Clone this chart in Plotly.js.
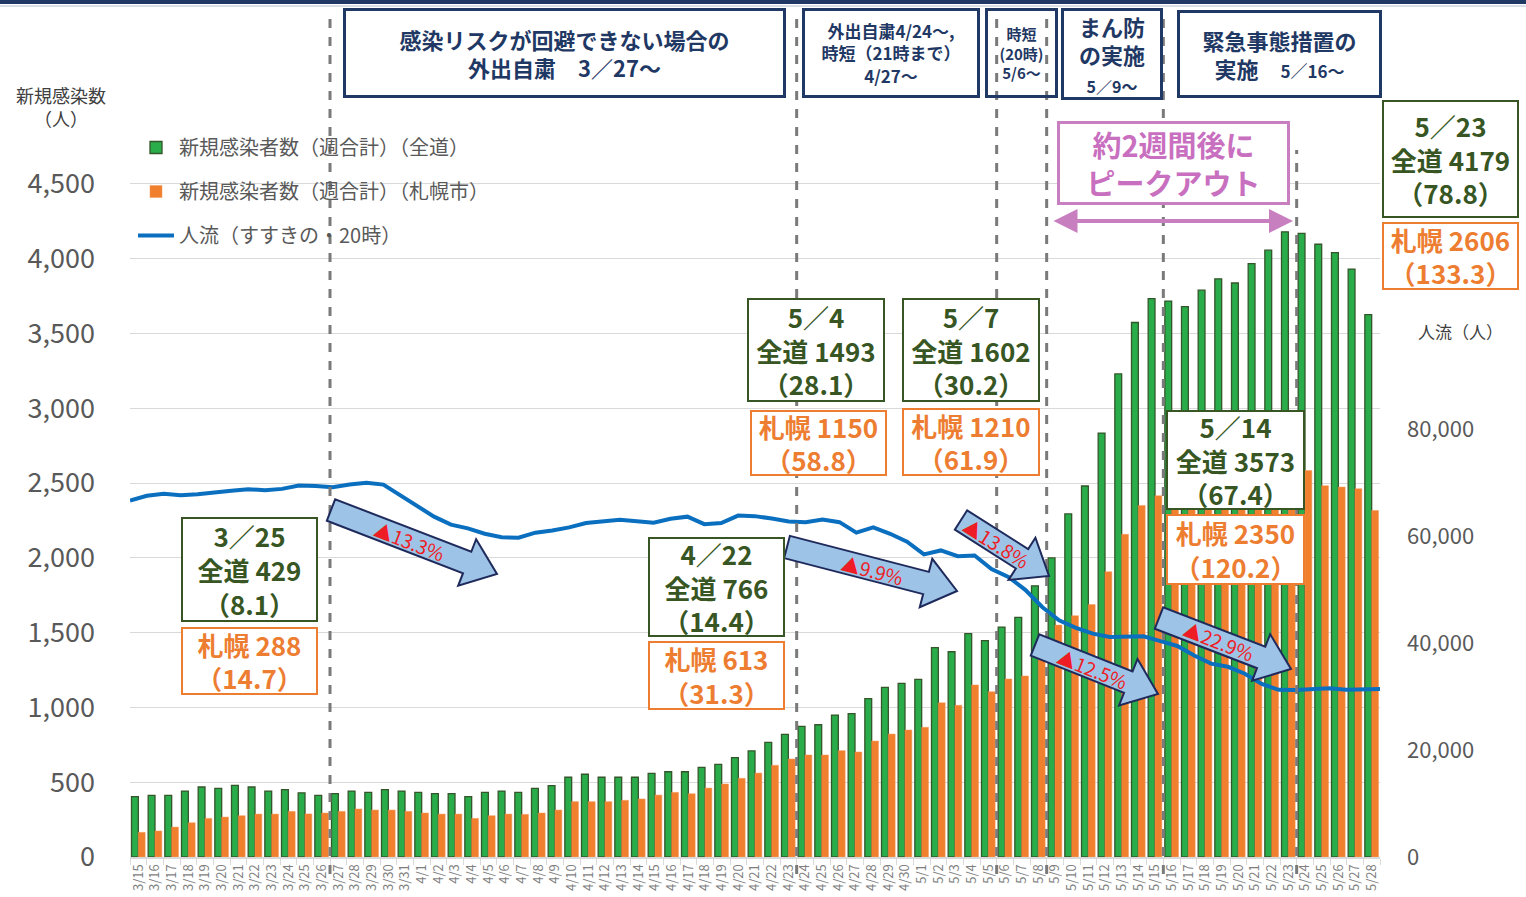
<!DOCTYPE html>
<html><head><meta charset="utf-8">
<script src="https://cdn.plot.ly/plotly-3.0.1.min.js"></script>
<style>html,body{margin:0;padding:0;background:#fff}#chart{width:1526px;height:897px}</style>
</head><body><div id="chart"></div>
<script>
const dates = ["3/15","3/16","3/17","3/18","3/19","3/20","3/21","3/22","3/23","3/24","3/25","3/26","3/27","3/28","3/29","3/30","3/31",
"4/1","4/2","4/3","4/4","4/5","4/6","4/7","4/8","4/9","4/10","4/11","4/12","4/13","4/14","4/15","4/16","4/17","4/18","4/19","4/20","4/21","4/22","4/23","4/24","4/25","4/26","4/27","4/28","4/29","4/30",
"5/1","5/2","5/3","5/4","5/5","5/6","5/7","5/8","5/9","5/10","5/11","5/12","5/13","5/14","5/15","5/16","5/17","5/18","5/19","5/20","5/21","5/22","5/23","5/24","5/25","5/26","5/27","5/28"];

const hokkaido = [403,412,412,441,468,459,479,468,441,450,429,412,423,441,432,450,441,
432,423,423,403,432,441,432,459,477,533,553,533,533,533,559,570,570,599,619,664,709,766,820,873,884,949,958,1058,1134,1161,
1188,1399,1372,1493,1446,1537,1602,1813,1999,2293,2480,2834,3229,3573,3733,3716,3679,3789,3865,3837,3966,4056,4179,4169,4096,4040,3930,3625];

const sapporo = [165,174,200,229,258,267,276,287,287,305,288,294,305,321,314,314,305,
294,287,287,258,276,287,285,294,314,370,370,370,379,388,414,432,423,461,488,526,561,613,655,682,682,711,702,775,822,849,
867,1031,1014,1150,1105,1190,1210,1339,1550,1613,1687,1907,2157,2350,2415,2440,2420,2480,2520,2500,2550,2590,2606,2583,2482,2473,2462,2316];

const susukino = [66720,67600,68000,67700,67900,68280,68550,68840,68650,68900,
69540,69450,69210,69700,70050,69700,67700,65600,63700,62200,
61500,60500,59850,59750,60700,61120,61700,62500,62800,63110,
62850,62550,63300,63700,62300,62500,63900,63800,63350,62800,
62670,63170,62670,60700,61700,60500,59000,56630,57380,56300,
56440,53900,52400,50000,46800,44300,42900,41800,41180,41300,
41300,40400,39500,37700,36200,35600,34300,32400,31300,31270,
31500,31600,31300,31300,31440];

const seriesNames = ["新規感染者数（週合計）（全道）","新規感染者数（週合計）（札幌市）","人流（すすきの・20時）"];
const leftTicks = [0,500,1000,1500,2000,2500,3000,3500,4000,4500,5000];
const leftTickText = ["0","500","1,000","1,500","2,000","2,500","3,000","3,500","4,000","4,500",""];
const rightTicks = [0,20000,40000,60000,80000];
const eventDates = ["3/27","4/24","5/6","5/9","5/16","5/24"];
const dropLabels = ["▲13.3%","▲9.9%","▲13.8%","▲12.5%","▲22.9%"];

// layout helpers (pixel -> paper)
const W=1526,H=897,PL=130,PR=1380,PT=109,PB=857;
const px = X => (X-PL)/(PR-PL);
const py = Y => (PB-Y)/(PB-PT);
const FONT = '"Noto Sans CJK JP", "Noto Sans", sans-serif';
const NAVY='#1f3864', GTXT='#375623', ORG='#ed7d31', PINK='#c96fbf';

const traces = [
  {type:'bar', name:seriesNames[0], x:dates, y:hokkaido, legendgroup:'a',
   marker:{color:'#28ad4a', line:{color:'#35562a', width:1.3}}},
  {type:'bar', name:seriesNames[1], x:dates, y:sapporo, legendgroup:'b',
   marker:{color:'#f07f2e', line:{color:'#f59a5a', width:0.5}}},
  {type:'scatter', mode:'lines', name:seriesNames[2], x:dates, y:susukino, xaxis:'x2', yaxis:'y2', legendgroup:'c',
   line:{color:'#0b6fc0', width:4}}
];

const shapes = [];
const annotations = [];

// top navy band
shapes.push({type:'rect', xref:'paper', yref:'paper', x0:px(0), x1:px(W), y0:py(4), y1:py(0), fillcolor:NAVY, line:{width:0}, layer:'above'});
shapes.push({type:'line', xref:'paper', yref:'paper', x0:px(0), x1:px(W), y0:py(6), y1:py(6), line:{color:'#b4c0d4', width:1}, layer:'above'});

// dashed event lines
eventDates.forEach((d,i)=>{
  const idx = dates.indexOf(d) - 0.5;
  shapes.push({type:'line', xref:'x', yref:'paper', x0:idx, x1:idx, y0:py(874), y1: i===5 ? py(150) : py(10),
    line:{color:'#7a7a7a', width:3, dash:'dash'}, layer:'above'});
});

// block arrows
function blockArrow(T, P, w, hw, hl){
  const dx=P[0]-T[0], dy=P[1]-T[1], L=Math.hypot(dx,dy);
  const u=[dx/L,dy/L], n=[-u[1],u[0]];
  const Hh=[P[0]-u[0]*hl, P[1]-u[1]*hl];
  const pts=[
    [T[0]+n[0]*w, T[1]+n[1]*w],[Hh[0]+n[0]*w, Hh[1]+n[1]*w],[Hh[0]+n[0]*hw, Hh[1]+n[1]*hw],
    P,[Hh[0]-n[0]*hw, Hh[1]-n[1]*hw],[Hh[0]-n[0]*w, Hh[1]-n[1]*w],[T[0]-n[0]*w, T[1]-n[1]*w]];
  return 'M '+pts.map(p=>px(p[0]).toFixed(5)+','+py(p[1]).toFixed(5)).join(' L ')+' Z';
}
const arrows = [
  {T:[331,510], P:[497,574], f:0.47},
  {T:[787,547], P:[957,591], f:0.5},
  {T:[961,520], P:[1049,576], f:0.4},
  {T:[1035,645], P:[1158,694], f:0.47},
  {T:[1159,618], P:[1291,669], f:0.45}
];
arrows.forEach((a,i)=>{
  shapes.push({type:'path', xref:'paper', yref:'paper', path:blockArrow(a.T,a.P,11.5,25,32),
    fillcolor:'#9dc3e6', line:{color:'#1f2a5c', width:2}, layer:'above'});
  const ang = Math.atan2(a.P[1]-a.T[1], a.P[0]-a.T[0])*180/Math.PI;
  const cx = a.T[0]+(a.P[0]-a.T[0])*a.f, cy = a.T[1]+(a.P[1]-a.T[1])*a.f;
  annotations.push({xref:'paper', yref:'paper', x:px(cx), y:py(cy), xanchor:'center', yanchor:'middle',
    text:dropLabels[i], showarrow:false, textangle:ang, font:{family:FONT, size:19, color:'#ee1c24'}});
});

// pink double arrow
annotations.push({xref:'paper', yref:'paper', axref:'paper', ayref:'paper', x:px(1293), y:py(221), ax:px(1052), ay:py(221),
  text:'', showarrow:true, arrowside:'end+start', arrowhead:2, arrowsize:1.2, arrowwidth:4, arrowcolor:'#c87fc0'});

function box(x0,y0,x1,y1,text,opts){
  const bw = opts.bw||2;
  annotations.push({xref:'paper', yref:'paper', x:px(x0), y:py(y0), xanchor:'left', yanchor:'top',
    width:(x1-x0)-2*bw, height:(y1-y0)-2*bw, borderpad:0, borderwidth:bw, bordercolor:opts.bc,
    bgcolor: opts.bg===undefined ? '#ffffff' : opts.bg, showarrow:false, align:'center', valign:'middle',
    text:text, font:{family:FONT, size:opts.size, color:opts.color}});
}
// top navy boxes
box(343,8,786,98,'<b>感染リスクが回避できない場合の<br>外出自粛　3／27～</b>',{bc:NAVY,bw:3,size:22,color:NAVY});
box(802,8,980,98,'<b>外出自粛4/24～,<br>時短（21時まで）<br>4/27～</b>',{bc:NAVY,bw:3,size:17,color:NAVY});
box(985,8,1058,98,'<b>時短<br>(20時)<br>5/6～</b>',{bc:NAVY,bw:3,size:15,color:NAVY,bg:'rgba(0,0,0,0)'});
box(1061,8,1163,100,'<b>まん防<br>の実施<br><span style="font-size:16px">5／9～</span></b>',{bc:NAVY,bw:3,size:22,color:NAVY});
box(1177,10,1382,98,'<b>緊急事態措置の<br>実施　<span style="font-size:17px">5／16～</span></b>',{bc:NAVY,bw:3,size:22,color:NAVY});
// pink box
box(1057,121,1290,205,'<b>約2週間後に<br>ピークアウト</b>',{bc:'#c87fc0',bw:3,size:29,color:PINK});

// value callouts
const callouts = [
  {g:[181,517,318,622], o:[181,627,318,695], d:'3/25', h:'429', hr:'8.1', s:'288', sr:'14.7'},
  {g:[648,537,785,637], o:[648,641,785,710], d:'4/22', h:'766', hr:'14.4', s:'613', sr:'31.3'},
  {g:[747,298,885,402], o:[750,410,887,476], d:'5/4', h:'1493', hr:'28.1', s:'1150', sr:'58.8'},
  {g:[902,298,1040,402], o:[902,408,1040,476], d:'5/7', h:'1602', hr:'30.2', s:'1210', sr:'61.9'},
  {g:[1166,410,1305,510], o:[1166,514,1305,585], d:'5/14', h:'3573', hr:'67.4', s:'2350', sr:'120.2'},
  {g:[1382,100,1519,218], o:[1382,222,1519,290], d:'5/23', h:'4179', hr:'78.8', s:'2606', sr:'133.3'}
];
callouts.forEach(c=>{
  box(c.g[0],c.g[1],c.g[2],c.g[3],'<b>'+c.d.replace('/','／')+'<br>全道 '+c.h+'<br>（'+c.hr+'）</b>',{bc:GTXT,bw:2,size:26,color:GTXT});
  box(c.o[0],c.o[1],c.o[2],c.o[3],'<b>札幌 '+c.s+'<br>（'+c.sr+'）</b>',{bc:ORG,bw:2,size:26,color:ORG});
});

// axis titles
annotations.push({xref:'paper', yref:'paper', x:px(61), y:py(106), xanchor:'center', yanchor:'middle',
  text:'新規感染数<br>（人）', showarrow:false, font:{family:FONT, size:18, color:'#404040'}});
annotations.push({xref:'paper', yref:'paper', x:px(1460), y:py(331), xanchor:'center', yanchor:'middle',
  text:'人流（人）', showarrow:false, font:{family:FONT, size:17, color:'#404040'}});

const layout = {
  width:W, height:H, margin:{l:PL, r:W-PR, t:PT, b:H-PB},
  paper_bgcolor:'#ffffff', plot_bgcolor:'#ffffff',
  font:{family:FONT, color:'#595959'},
  barmode:'group', bargap:0.18, bargroupgap:0,
  xaxis:{type:'category', range:[-0.5, dates.length-0.5], tickangle:-90, tickfont:{size:13, color:'#7f7f7f'},
    ticks:'outside', tickson:'boundaries', ticklen:6, tickcolor:'#d9d9d9', showline:true, linecolor:'#d9d9d9', linewidth:2,
    showgrid:false, fixedrange:true},
  xaxis2:{type:'category', overlaying:'x', range:[0, dates.length-1], visible:false},
  yaxis:{range:[0,5000], tickvals:leftTicks, ticktext:leftTickText, tickfont:{size:27, color:'#595959'},
    gridcolor:'#d9d9d9', gridwidth:1, zeroline:false, showline:false, ticks:'', ticklabelstandoff:34},
  yaxis2:{overlaying:'y', side:'right', range:[0,140000], tickvals:rightTicks, tickformat:',',
    tickfont:{size:22, color:'#595959'}, showgrid:false, zeroline:false, showline:false, ticks:'', ticklabelstandoff:26},
  legend:{x:px(133), y:py(128), xanchor:'left', yanchor:'top', bgcolor:'rgba(0,0,0,0)',
    font:{size:20, color:'#595959', family:FONT}, tracegroupgap:15, traceorder:'grouped', itemwidth:36},
  showlegend:true,
  shapes:shapes, annotations:annotations
};

Plotly.newPlot('chart', traces, layout, {displayModeBar:false, staticPlot:true});
</script></body></html>
